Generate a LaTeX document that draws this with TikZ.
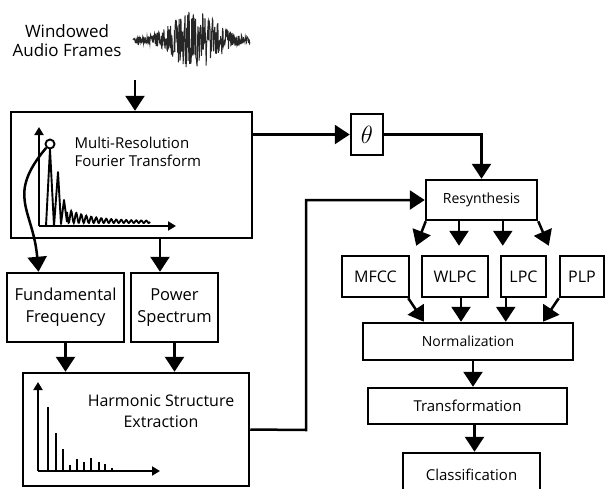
\documentclass[tikz,border=0pt]{standalone}
\usepackage{fontspec}
\setmainfont{Open Sans}
\usepackage{amsmath}
\usetikzlibrary{arrows.meta}
\tikzset{arrow/.style={-{Triangle[width=19pt,length=15pt]}, line width=2.5pt}}
\tikzset{box/.style={draw, line width=2.5pt, inner sep=0pt, align=center}}
\tikzset{axis/.style={-{Triangle[width=9pt,length=8pt]}, line width=1.9pt}}
\tikzset{small/.style={font=\fontsize{14}{18}\selectfont}}

\begin{document}
\begin{tikzpicture}[x=1pt, y=-1pt, font=\fontsize{16}{21}\selectfont]
    \useasboundingbox (0,0) rectangle (608,488);
    % input
    \node (frames) at (67,41) [align=center, font=\fontsize{17}{19}\selectfont] {Windowed\\Audio Frames};
    \pgfmathsetseed{11}
    \draw[line width=1pt, black!85] plot[domain=133:250, samples=300]
      (\x, {40 + (3 + 28*exp(-((\x-195)/28)^2))*rand});
    \coordinate (in) at (135,80);

    % left column
    \node[box, minimum width=241pt, minimum height=126pt] (mrft) at (131.5,175) {};
    \node[anchor=west, align=left, font=\fontsize{15}{18}\selectfont] (mrftlbl) at (71,152) {Multi-Resolution\\Fourier Transform};
    \draw[axis] (39,226) -- (39,127);
    \draw[axis] (39,226) -- (176,226);
    \node[draw, circle, line width=1.9pt, minimum size=9pt, inner sep=0pt] (peak) at (50,144) {};
    \draw[line width=1.9pt, line join=round] (46,226) -- (peak.south) -- (54,226) -- (58,172) -- (61,224) -- (64,200) -- (67,222);
    \draw[line width=1.8pt] plot[domain=67:150, samples=160]
      (\x, {223 - (2 + 12*exp(-(\x-67)/24))*(1+sin(72*\x))/2});

    \node[box, minimum width=117pt, minimum height=69pt, font=\fontsize{16.5}{22}\selectfont] (ff) at (65.5,307.5) {Fundamental\\Frequency};
    \node[box, minimum width=87pt, minimum height=69pt, font=\fontsize{16.5}{22}\selectfont] (ps) at (174.5,307.5) {Power\\Spectrum};

    \node[box, minimum width=226pt, minimum height=113pt] (hse) at (136,429.5) {};
    \node (hselbl) at (161,411) [align=center] {Harmonic Structure\\Extraction};
    \draw[axis] (38,471) -- (38,382);
    \draw[axis] (38,471) -- (160,471);
    \foreach \bx/\by in {48/407, 56/433, 63/449, 70/465, 77/459, 84/462, 91/458, 99/462, 105/464, 112/468}
      \draw[line width=2pt] (\bx,471) -- (\bx,\by);

    % right column
    \node[box, minimum width=32pt, minimum height=41pt, font=\fontsize{23}{24}\selectfont] (theta) at (367,134.5) {$\theta$};
    \node[box, small, minimum width=111pt, minimum height=40pt] (resyn) at (481.5,200) {Resynthesis};
    \node[box, minimum width=67pt, minimum height=41pt] (mfcc) at (375.5,276.5) {MFCC};
    \node[box, minimum width=66pt, minimum height=41pt] (wlpc) at (455,276.5) {WLPC};
    \node[box, minimum width=45pt, minimum height=41pt] (lpc) at (523.5,276.5) {LPC};
    \node[box, minimum width=44pt, minimum height=41pt] (plp) at (582,276.5) {PLP};
    \node[box, small, minimum width=210pt, minimum height=37pt] (norm) at (468,341.5) {Normalization};
    \node[box, small, minimum width=199pt, minimum height=36pt, font=\fontsize{15}{18}\selectfont] (trans) at (467.5,406) {Transformation};
    \node[box, small, minimum width=137pt, minimum height=44pt, font=\fontsize{15}{18}\selectfont] (classif) at (471.5,475) {Classification};
    \coordinate (bend) at (306,430);

    % connectors
    \draw[arrow] (in) -- (in |- mrft.north);
    \draw[arrow] (peak.south west) to[out=230, in=95, looseness=1.3] ([xshift=-27pt]ff.north);
    \draw[arrow] ([xshift=-14.5pt]ps.north |- mrft.south) -- ([xshift=-14.5pt]ps.north);
    \draw[arrow] (ff.south) -- (ff.south |- hse.north);
    \draw[arrow] (ps.south) -- (ps.south |- hse.north);
    \draw[arrow] (mrft.east |- theta.west) -- (theta.west);
    \draw[arrow] (theta.east) -| (resyn.north);
    \draw[arrow] (hse.east) -- (bend) |- (resyn.west);

    \draw[arrow] ([xshift=1pt]resyn.south west) -- ([xshift=6pt,yshift=9pt]mfcc.north east);
    \draw[arrow] ([xshift=4pt]wlpc.north |- resyn.south) -- ([xshift=4pt,yshift=9pt]wlpc.north);
    \draw[arrow] ([xshift=3pt]lpc.north west |- resyn.south) -- ([xshift=3pt,yshift=9pt]lpc.north west);
    \draw[arrow] (resyn.south east) -- ([xshift=-10pt,yshift=9pt]plp.north west);

    \draw[arrow] ([xshift=-2pt]mfcc.south east) -- ([xshift=-44pt]norm.north);
    \draw[arrow] ([xshift=6pt]wlpc.south) -- ([xshift=6pt]wlpc.south |- norm.north);
    \draw[arrow] ([xshift=6pt]lpc.south west) -- ([xshift=6pt]lpc.south west |- norm.north);
    \draw[arrow] (plp.south west) -- ([xshift=75pt]norm.north);
    \draw[arrow] ([xshift=5pt]norm.south) -- ([xshift=5pt]norm.south |- trans.north);
    \draw[arrow] ([xshift=7pt]trans.south) -- ([xshift=7pt]trans.south |- classif.north);
\end{tikzpicture}
\end{document}
